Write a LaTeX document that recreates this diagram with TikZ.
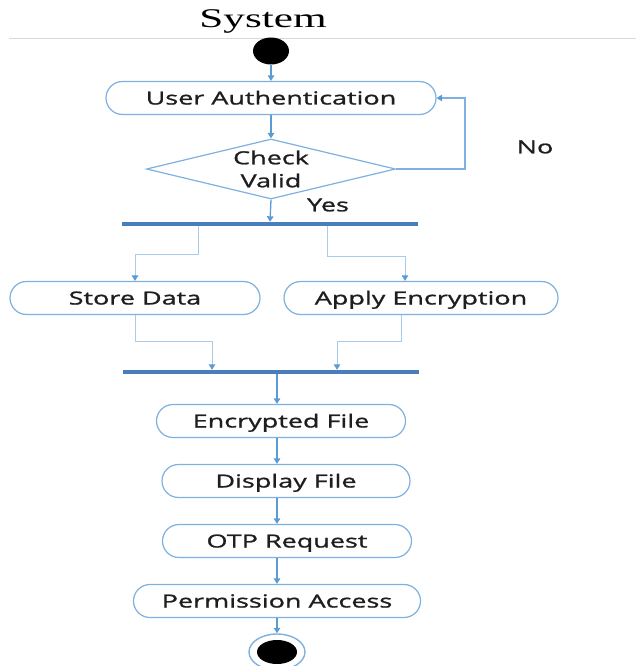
\documentclass[tikz,border=0pt]{standalone}
\usepackage{fontspec}
\setmainfont{Open Sans}[FakeStretch=1.5]
\newfontfamily\flowface{Open Sans}[FakeStretch=1.5,FakeBold=1.2]
\newfontfamily\titleface{Liberation Serif}[FakeStretch=1.6]
\usetikzlibrary{arrows.meta,shapes.misc,shapes.geometric}
\definecolor{boxline}{HTML}{7EB0E0}
\definecolor{arrowline}{HTML}{5B9BD5}
\definecolor{branchline}{HTML}{A8CBEC}
\definecolor{barblue}{HTML}{4A7EBB}
\definecolor{ink}{HTML}{1E1E1E}
\newcommand\flowtext{\flowface\fontsize{18}{23}\selectfont}

\begin{document}
\begin{tikzpicture}[x=1pt,y=-1pt,
  act/.style={rounded rectangle, draw=boxline, line width=1.2pt, fill=white,
    minimum height=33pt, inner sep=0pt, text=ink, font=\flowtext,
    text height=13pt, text depth=0pt},
  tip/.style={-{Triangle[width=6.5pt,length=5.5pt,color=arrowline]}},
  main/.style={draw=arrowline, line width=1.3pt, tip},
  branch/.style={draw=branchline, line width=1pt, tip},
  syncbar/.style={rectangle, fill=barblue, minimum width=296pt,
    minimum height=4pt, inner sep=0pt},
  lbl/.style={font=\flowtext, text=ink, inner sep=0pt}
]
\useasboundingbox (0,0) rectangle (636,666);

% heading and separator
\node[font=\titleface\fontsize{27}{30}\selectfont, inner sep=0pt] (title) at (263,21) {System};
\coordinate (ruleL) at (9,38);
\coordinate (ruleR) at (636,38);
\draw[black!15, line width=0.8pt] (ruleL) -- (ruleR);

% start and login check
\node[ellipse, fill=black, minimum width=36pt, minimum height=27pt, inner sep=0pt] (start) at (271,51) {};
\node[act, minimum width=330pt] (ua) at (271,98) {User Authentication};
\node[diamond, draw=boxline, line width=1.2pt, minimum width=249pt, minimum height=60pt,
  inner sep=0pt, label={[lbl, align=center]center:Check\\Valid}] (chk) at (271,169) {};
\node[lbl] (no) at (535,147) {No};
\node[lbl] (yes) at (328,205) {Yes};

% fork
\node[syncbar] (bar1) at (270,224) {};
\node[act, minimum width=250pt] (sd) at (135,298) {Store Data};
\node[act, minimum width=274pt] (ae) at (421,298) {Apply Encryption};
\node[syncbar] (bar2) at (271,372) {};

% sequential steps
\node[act, minimum width=249pt] (ef) at (281,421) {Encrypted File};
\node[act, minimum width=248pt] (df) at (286,481) {Display File};
\node[act, minimum width=249pt] (otp) at (287,541) {OTP Request};
\node[act, minimum width=287pt] (pa) at (277,601) {Permission Access};

% end state
\node[ellipse, draw=boxline, line width=1.4pt, fill=white, minimum width=56pt,
  minimum height=36pt, inner sep=0pt] (stop) at (277,652) {};
\node[ellipse, fill=black, minimum width=40pt, minimum height=24pt, inner sep=0pt] (stopdot) at (stop.center) {};

% connectors
\draw[main] (start.south) -- (ua.north);
\draw[main] (ua.south) -- (chk.north);
\coordinate (loop) at (465,98);
\draw[main, draw=boxline] (chk.east) -| (loop) -- (ua.east);
\draw[main] (chk.south) -- (bar1.north);

\coordinate (sdcol) at (198,0);
\coordinate (aecol) at (327,0);
\coordinate (sdk) at (135,254);
\coordinate (aek) at (405,256);
\draw[branch] (bar1.south -| sdcol) |- (sdk) -- (sd.north);
\draw[branch] (bar1.south -| aecol) |- (aek) -- (aek |- ae.north);

\coordinate (aeout) at (401,0);
\coordinate (sdj) at (212,341);
\coordinate (aej) at (337,341);
\draw[branch] (sd.south) |- (sdj) -- (sdj |- bar2.north);
\draw[branch] (ae.south -| aeout) |- (aej) -- (aej |- bar2.north);

\coordinate (spine) at (277,0);
\draw[main] (bar2.south -| spine) -- (ef.north -| spine);
\draw[main] (ef.south -| spine) -- (df.north -| spine);
\draw[main] (df.south -| spine) -- (otp.north -| spine);
\draw[main] (otp.south -| spine) -- (pa.north -| spine);
\draw[main] (pa.south -| spine) -- (stop.north);
\end{tikzpicture}
\end{document}
